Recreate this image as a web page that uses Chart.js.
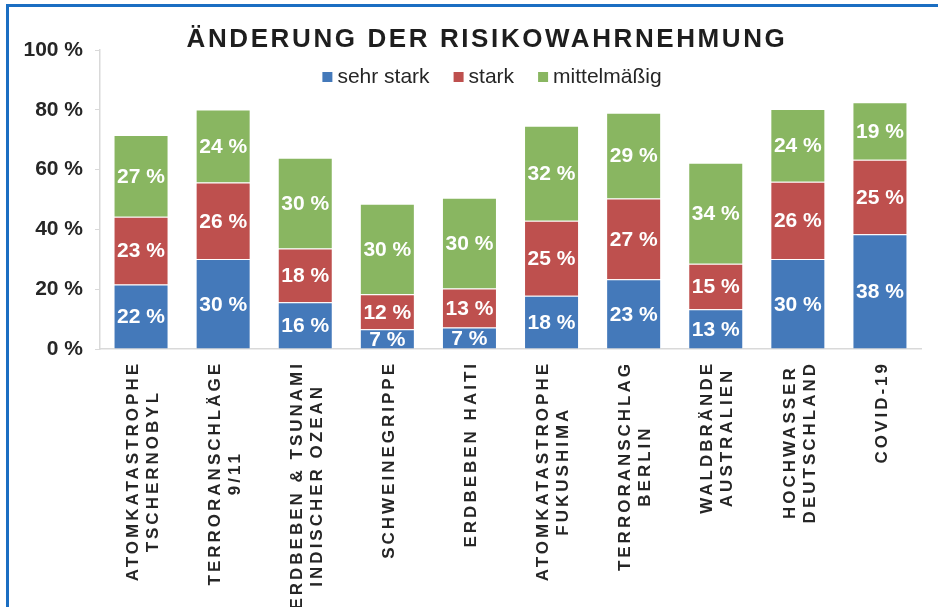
<!DOCTYPE html>
<html>
<head>
<meta charset="utf-8">
<script src="https://cdn.jsdelivr.net/npm/chart.js@4"></script>
<style>
  html, body { margin: 0; padding: 0; background: #fff; }
  #wrap { position: relative; width: 938px; height: 607px; overflow: hidden; }
  #frame { position: absolute; left: 6px; top: 4px; width: 940px; height: 610px;
           border-top: 3px solid #1b6ec2; border-left: 3px solid #1b6ec2; }
  canvas { position: absolute; left: 0; top: 0; }
</style>
</head>
<body>
<div id="wrap">
  <div id="frame"></div>
  <canvas id="myChart" width="938" height="607"></canvas>
</div>
<script>
(function () {
  'use strict'

  // Data
  const categories = [
    ['ATOMKATASTROPHE', 'TSCHERNOBYL'],
    ['TERRORANSCHLÄGE', '9/11'],
    ['ERDBEBEN & TSUNAMI', 'INDISCHER OZEAN'],
    ['SCHWEINEGRIPPE'],
    ['ERDBEBEN HAITI'],
    ['ATOMKATASTROPHE', 'FUKUSHIMA'],
    ['TERRORANSCHLAG', 'BERLIN'],
    ['WALDBRÄNDE', 'AUSTRALIEN'],
    ['HOCHWASSER', 'DEUTSCHLAND'],
    ['COVID-19']
  ];
  const sehrStark = [21.6, 30.1, 15.6, 6.6, 7.2, 17.8, 23.3, 13.3, 30.1, 38.4];
  const stark = [22.6, 25.6, 18.0, 11.7, 13.0, 25.1, 27.0, 15.2, 25.8, 24.9];
  const mittel = [27.4, 24.4, 30.4, 30.3, 30.4, 31.8, 28.7, 33.8, 24.4, 19.2];
  const seriesNames = ['sehr stark', 'stark', 'mittelmäßig'];
  const titleText = 'ÄNDERUNG DER RISIKOWAHRNEHMUNG';

  const FONT = '"Liberation Sans", Arial, sans-serif';
  const TEXT = '#262626';

  // value labels inside the segments
  const valueLabels = {
    id: 'valueLabels',
    afterDatasetsDraw(chart) {
      const ctx = chart.ctx;
      ctx.save();
      ctx.font = 'bold 21px ' + FONT;
      ctx.fillStyle = '#fff';
      ctx.textAlign = 'center';
      ctx.textBaseline = 'middle';
      chart.data.datasets.forEach((ds, di) => {
        chart.getDatasetMeta(di).data.forEach((bar, i) => {
          const y = (bar.y + bar.base) / 2 + 1;
          ctx.fillText(Math.round(ds.data[i]) + ' %', bar.x, y);
        });
      });
      ctx.restore();
    }
  };

  // title, legend and rotated category labels
  const decorations = {
    id: 'decorations',
    afterDraw(chart) {
      const ctx = chart.ctx;
      ctx.save();

      // title
      ctx.font = 'bold 26px ' + FONT;
      ctx.letterSpacing = '2.6px';
      ctx.fillStyle = '#1e1e1e';
      ctx.textAlign = 'center';
      ctx.textBaseline = 'alphabetic';
      ctx.fillText(titleText, 487, 47);

      // legend
      ctx.letterSpacing = '0px';
      ctx.font = '21px ' + FONT;
      ctx.textAlign = 'left';
      const box = 10, gapIn = 5, gapOut = 24;
      const widths = seriesNames.map(n => ctx.measureText(n).width);
      const total = widths.reduce((a, w) => a + box + gapIn + w, 0) + gapOut * (seriesNames.length - 1);
      let lx = 492 - total / 2;
      chart.data.datasets.forEach((ds, i) => {
        ctx.fillStyle = ds.backgroundColor;
        ctx.fillRect(lx, 72, box, box);
        ctx.fillStyle = TEXT;
        ctx.fillText(seriesNames[i], lx + box + gapIn, 83);
        lx += box + gapIn + widths[i] + gapOut;
      });

      // category labels, rotated, block top at y=362
      const xScale = chart.scales.x;
      ctx.font = 'bold 17px ' + FONT;
      ctx.letterSpacing = '3px';
      ctx.fillStyle = TEXT;
      ctx.textAlign = 'center';
      ctx.textBaseline = 'middle';
      const lh = 20;
      categories.forEach((lines, i) => {
        const x = xScale.getPixelForValue(i);
        const L = Math.max(...lines.map(t => ctx.measureText(t).width));
        lines.forEach((t, j) => {
          ctx.save();
          ctx.translate(x + (j - (lines.length - 1) / 2) * lh + 1, 361);
          ctx.rotate(-Math.PI / 2);
          ctx.fillText(t, -L / 2, 1);
          ctx.restore();
        });
      });
      ctx.restore();
    }
  };

  const ctx = document.getElementById('myChart');
  const data = {
    labels: categories.map(c => c.join(' ')),
    datasets: [
      { label: seriesNames[0], data: sehrStark, backgroundColor: '#4479BA' },
      { label: seriesNames[1], data: stark, backgroundColor: '#BE504E' },
      { label: seriesNames[2], data: mittel, backgroundColor: '#89B661' }
    ]
  };

  // eslint-disable-next-line no-unused-vars
  const myChart = new Chart(ctx, {
    type: 'bar',
    data: data,
    plugins: [valueLabels, decorations],
    options: {
      responsive: false,
      animation: false,
      events: [],
      layout: { padding: { top: 50, right: 17, left: 0, bottom: 0 } },
      datasets: {
        bar: {
          categoryPercentage: 1,
          barPercentage: 0.67,
          borderWidth: 1,
          borderColor: 'rgba(255,255,255,0.45)'
        }
      },
      plugins: {
        legend: { display: false },
        title: { display: false },
        tooltip: { enabled: false }
      },
      scales: {
        x: {
          stacked: true,
          grid: { display: false },
          border: { display: true, color: '#d9d9d9', width: 1.5 },
          ticks: { display: false },
          afterFit(scale) { scale.height = 258; }
        },
        y: {
          stacked: true,
          min: 0,
          max: 100,
          grid: { drawOnChartArea: false, drawTicks: true, tickLength: 5, color: '#d9d9d9' },
          border: { display: true, color: '#d9d9d9', width: 1.5 },
          ticks: {
            stepSize: 20,
            padding: 12,
            color: TEXT,
            font: { family: FONT, size: 21, weight: 'bold' },
            callback: (v) => v + ' %'
          },
          afterFit(scale) { scale.width = 100; }
        }
      }
    }
  });
})()
</script>
</body>
</html>
